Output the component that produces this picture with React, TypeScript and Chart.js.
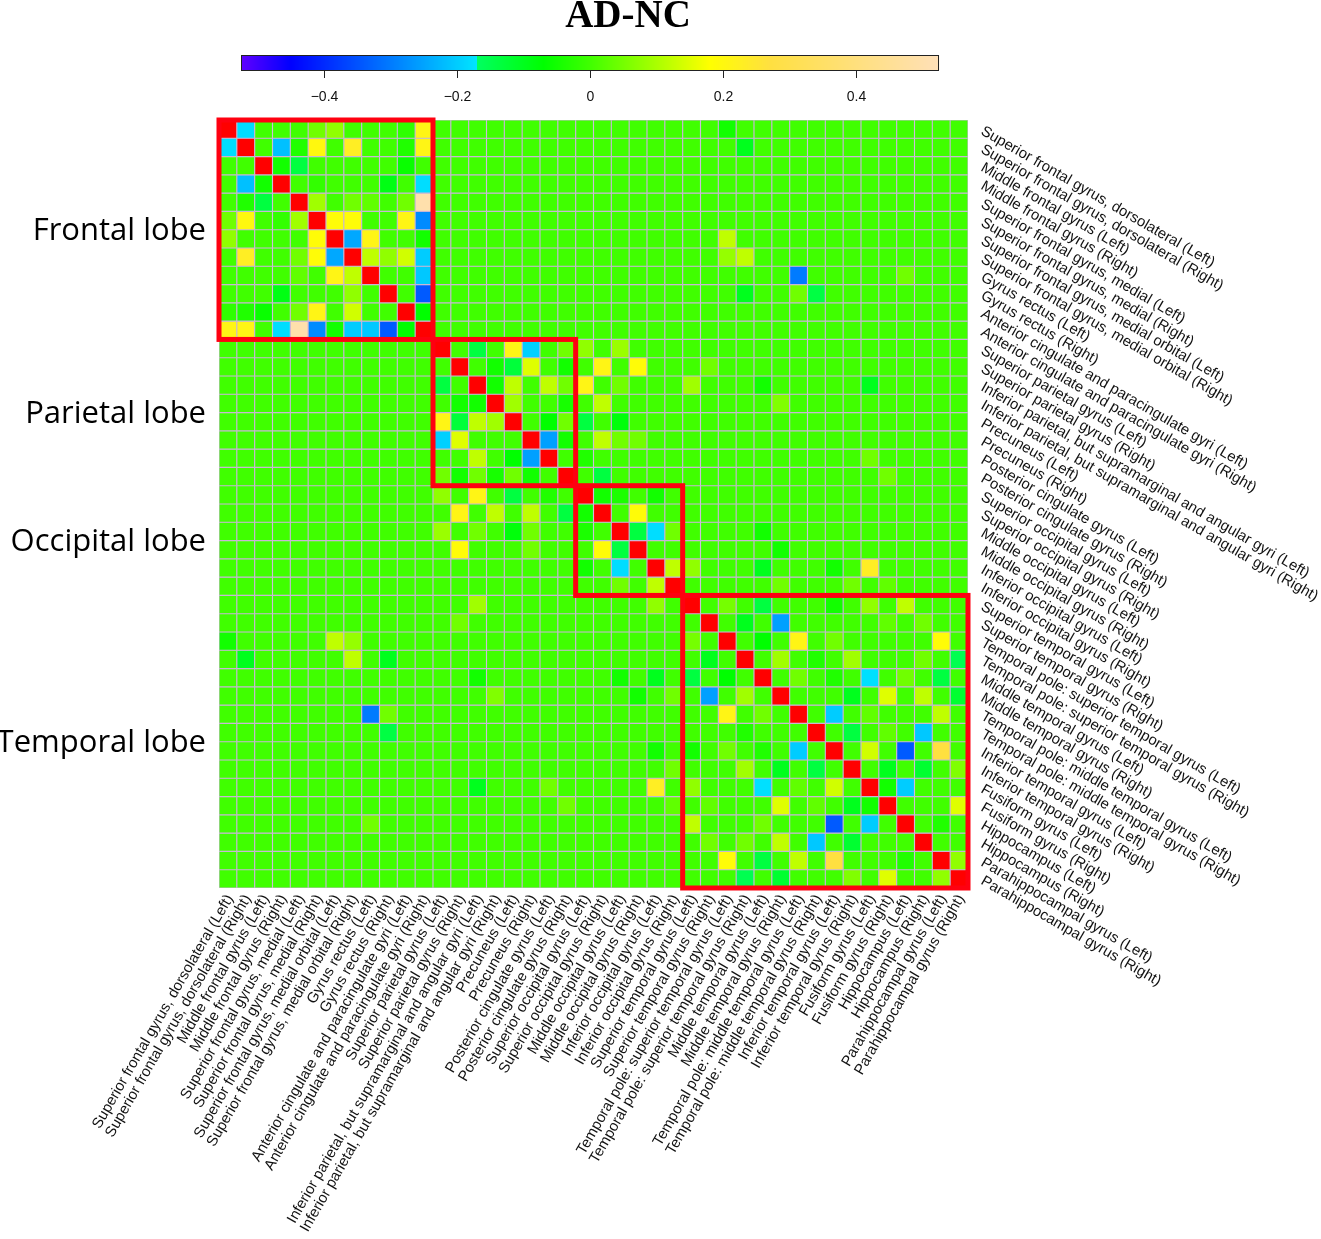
import React, { useEffect, useRef } from 'react';
import { Chart, registerables } from 'chart.js';

Chart.register(...registerables);

const regions = [
  'Superior frontal gyrus, dorsolateral (Left)',
  'Superior frontal gyrus, dorsolateral (Right)',
  'Middle frontal gyrus (Left)',
  'Middle frontal gyrus (Right)',
  'Superior frontal gyrus, medial (Left)',
  'Superior frontal gyrus, medial (Right)',
  'Superior frontal gyrus, medial orbital (Left)',
  'Superior frontal gyrus, medial orbital (Right)',
  'Gyrus rectus (Left)',
  'Gyrus rectus (Right)',
  'Anterior cingulate and paracingulate gyri (Left)',
  'Anterior cingulate and paracingulate gyri (Right)',
  'Superior parietal gyrus (Left)',
  'Superior parietal gyrus (Right)',
  'Inferior parietal, but supramarginal and angular gyri (Left)',
  'Inferior parietal, but supramarginal and angular gyri (Right)',
  'Precuneus (Left)',
  'Precuneus (Right)',
  'Posterior cingulate gyrus (Left)',
  'Posterior cingulate gyrus (Right)',
  'Superior occipital gyrus (Left)',
  'Superior occipital gyrus (Right)',
  'Middle occipital gyrus (Left)',
  'Middle occipital gyrus (Right)',
  'Inferior occipital gyrus (Left)',
  'Inferior occipital gyrus (Right)',
  'Superior temporal gyrus (Left)',
  'Superior temporal gyrus (Right)',
  'Temporal pole: superior temporal gyrus (Left)',
  'Temporal pole: superior temporal gyrus (Right)',
  'Middle temporal gyrus (Left)',
  'Middle temporal gyrus (Right)',
  'Temporal pole: middle temporal gyrus (Left)',
  'Temporal pole: middle temporal gyrus (Right)',
  'Inferior temporal gyrus (Left)',
  'Inferior temporal gyrus (Right)',
  'Fusiform gyrus (Left)',
  'Fusiform gyrus (Right)',
  'Hippocampus (Left)',
  'Hippocampus (Right)',
  'Parahippocampal gyrus (Left)',
  'Parahippocampal gyrus (Right)',
];

const lobeNames = ['Frontal lobe', 'Parietal lobe', 'Occipital lobe', 'Temporal lobe'];
const lobeFirst = [1, 13, 21, 27];
const lobeLast = [12, 20, 26, 42];

const colorbarTicks = [-0.4, -0.2, 0, 0.2, 0.4];
const colorbarMin = -0.525;
const colorbarMax = 0.525;
const diagonalValue = 1;

// upper-triangle differences [row, col, value] (1-based), mirrored to lower triangle
const differences: [number, number, number][] = [
  [1, 2, -0.18], [1, 6, 0.045], [1, 7, 0.075], [1, 11, -0.02], [1, 12, 0.21],
  [2, 4, -0.215], [2, 5, -0.035], [2, 6, 0.2], [2, 8, 0.23], [2, 11, -0.035], [2, 12, 0.21],
  [3, 4, -0.05], [3, 5, -0.137], [3, 11, -0.06],
  [4, 6, -0.015], [4, 10, -0.09], [4, 12, -0.18],
  [5, 6, 0.09], [5, 8, 0.045], [5, 9, 0.03], [5, 11, 0.045], [5, 12, 0.5],
  [6, 7, 0.19], [6, 8, 0.19], [6, 11, 0.21], [6, 12, -0.28],
  [7, 8, -0.245], [7, 9, 0.21], [7, 12, -0.05],
  [8, 9, 0.12], [8, 10, 0.075], [8, 11, 0.136], [8, 12, -0.2],
  [9, 12, -0.205], [10, 12, -0.34], [11, 12, -0.07],
  [1, 29, -0.05], [2, 30, -0.1], [7, 29, 0.12], [8, 29, 0.08], [8, 30, 0.12],
  [9, 33, -0.3], [9, 39, 0.045], [10, 30, -0.1], [10, 33, 0.045], [10, 34, -0.14],
  [13, 15, -0.137], [13, 17, 0.21], [13, 18, -0.196], [13, 20, 0.045], [13, 21, 0.075], [13, 23, 0.085],
  [14, 16, -0.05], [14, 17, -0.13], [14, 18, 0.15], [14, 20, -0.05], [14, 22, 0.21], [14, 24, 0.19], [14, 28, 0.045],
  [15, 16, -0.05], [15, 17, 0.12], [15, 19, 0.12], [15, 20, 0.045], [15, 21, 0.21], [15, 23, 0.045],
  [15, 27, 0.09], [15, 31, -0.05], [15, 37, -0.1],
  [16, 17, 0.09], [16, 20, -0.045], [16, 22, 0.12], [16, 32, 0.06],
  [17, 19, -0.07], [17, 20, 0.045], [17, 21, -0.137], [17, 23, -0.08],
  [18, 19, -0.254], [18, 20, -0.05], [18, 22, 0.12], [18, 23, 0.045], [18, 24, 0.045],
  [19, 21, -0.035], [19, 37, 0.045], [20, 22, -0.137], [20, 38, 0.045],
  [21, 22, -0.05], [21, 23, -0.04], [21, 25, -0.05],
  [22, 24, 0.19], [23, 24, -0.137], [23, 25, -0.18], [23, 26, 0.045], [23, 31, -0.05],
  [24, 32, -0.05], [25, 26, 0.12], [25, 27, 0.075], [25, 31, -0.1], [25, 35, -0.05], [25, 37, 0.23],
  [26, 32, 0.045], [26, 36, 0.045], [26, 38, 0.03],
  [27, 29, 0.05], [27, 31, -0.137], [27, 35, -0.05], [27, 37, 0.075], [27, 39, 0.12],
  [28, 30, -0.1], [28, 32, -0.254], [28, 38, 0.03], [28, 40, 0.045],
  [29, 31, -0.07], [29, 33, 0.21], [29, 35, 0.045], [29, 41, 0.19],
  [30, 32, 0.09], [30, 34, -0.035], [30, 36, 0.09], [30, 40, 0.045], [30, 42, -0.153],
  [31, 33, 0.045], [31, 35, -0.035], [31, 37, -0.176], [31, 39, 0.045], [31, 41, -0.137],
  [32, 36, -0.1], [32, 38, 0.15], [32, 40, 0.12], [32, 42, -0.12],
  [33, 35, -0.2], [33, 37, 0.03], [33, 41, 0.12],
  [34, 36, -0.137], [34, 38, 0.03], [34, 40, -0.205],
  [35, 37, 0.136], [35, 39, -0.34], [35, 41, 0.27],
  [36, 38, -0.1], [36, 40, -0.12], [36, 42, 0.06],
  [37, 38, -0.05], [37, 39, -0.2], [38, 42, 0.15], [39, 41, -0.035], [41, 42, 0.075],
];

const colorStops: [number, number[]][] = [
  [-0.525, [96, 0, 255]],
  [-0.45, [0, 0, 255]],
  [-0.17, [0, 229, 255]],
  [-0.1699, [0, 255, 96]],
  [-0.07, [0, 255, 0]],
  [0, [64, 255, 0]],
  [0.18, [255, 255, 0]],
  [0.27, [255, 224, 64]],
  [0.525, [255, 224, 184]],
];

function colorFor(v: number): string {
  if (v >= 0.9) return 'rgb(255,0,0)';
  if (v <= colorStops[0][0]) return `rgb(${colorStops[0][1].join(',')})`;
  for (let k = 1; k < colorStops.length; k++) {
    const [p1, c1] = colorStops[k];
    const [p0, c0] = colorStops[k - 1];
    if (v <= p1) {
      const t = (v - p0) / (p1 - p0);
      const c = c0.map((a, i) => Math.round(a + (c1[i] - a) * t));
      return `rgb(${c.join(',')})`;
    }
  }
  return `rgb(${colorStops[colorStops.length - 1][1].join(',')})`;
}

function buildMatrix(): number[][] {
  const n = regions.length;
  const m: number[][] = [];
  for (let i = 0; i < n; i++) {
    const row: number[] = [];
    for (let j = 0; j < n; j++) row.push(i === j ? diagonalValue : 0);
    m.push(row);
  }
  for (const [i, j, v] of differences) {
    m[i - 1][j - 1] = v;
    m[j - 1][i - 1] = v;
  }
  return m;
}

const LABEL_FONT = '14.9px "Liberation Sans", Arial, sans-serif';

const overlayPlugin = {
  id: 'overlay',
  afterDatasetsDraw(chart: any) {
    const { ctx, chartArea, scales } = chart;
    const xs = scales.x;
    const ys = scales.y;
    const n = regions.length;
    const colW = (chartArea.right - chartArea.left) / n;

    ctx.save();
    // lobe frames
    ctx.strokeStyle = '#ff0010';
    ctx.lineWidth = 5;
    lobeFirst.forEach((f, k) => {
      const l = lobeLast[k];
      const x0 = xs.getPixelForValue(f - 1) - colW / 2;
      const x1 = xs.getPixelForValue(l - 1) + colW / 2;
      const y0 = ys.getPixelForValue(f - 1);
      const y1 = ys.getPixelForValue(l);
      ctx.strokeRect(x0, y0, x1 - x0, y1 - y0);
    });

    // lobe names
    ctx.fillStyle = '#000';
    ctx.font = '31px "Open Sans", "Noto Sans", sans-serif';
    ctx.textAlign = 'right';
    ctx.textBaseline = 'alphabetic';
    lobeFirst.forEach((f, k) => {
      const yc = (ys.getPixelForValue(f - 1) + ys.getPixelForValue(lobeLast[k])) / 2;
      ctx.fillText(lobeNames[k], 206, yc + 10);
    });

    // right labels
    ctx.font = LABEL_FONT;
    ctx.fillStyle = '#111';
    ctx.textAlign = 'left';
    ctx.textBaseline = 'middle';
    regions.forEach((name, r) => {
      const yc = ys.getPixelForValue(r + 0.5);
      ctx.save();
      ctx.translate(chartArea.right + 14, yc + 1);
      ctx.rotate(Math.PI / 6);
      ctx.fillText(name, 0, 0);
      ctx.restore();
    });

    // bottom labels
    ctx.textAlign = 'right';
    regions.forEach((name, c) => {
      const xc = xs.getPixelForValue(c);
      ctx.save();
      ctx.translate(xc + 2, chartArea.bottom + 8);
      ctx.rotate(-Math.PI / 3);
      ctx.fillText(name, 0, 0);
      ctx.restore();
    });

    // title
    ctx.font = 'bold 39px "Liberation Serif", "DejaVu Serif", serif';
    ctx.textAlign = 'center';
    ctx.textBaseline = 'alphabetic';
    ctx.fillStyle = '#000';
    ctx.fillText('AD-NC', 628, 27);

    // colorbar
    const cbL = 241, cbR = 939, cbT = 55, cbB = 70;
    const toX = (v: number) => cbL + ((v - colorbarMin) / (colorbarMax - colorbarMin)) * (cbR - cbL);
    for (let px = cbL; px < cbR; px++) {
      const v = colorbarMin + ((px + 0.5 - cbL) / (cbR - cbL)) * (colorbarMax - colorbarMin);
      ctx.fillStyle = colorFor(v);
      ctx.fillRect(px, cbT, 1.2, cbB - cbT);
    }
    ctx.strokeStyle = '#222';
    ctx.lineWidth = 1;
    ctx.strokeRect(cbL + 0.5, cbT + 0.5, cbR - cbL - 1, cbB - cbT);
    ctx.font = '14px "Liberation Sans", Arial, sans-serif';
    ctx.fillStyle = '#111';
    ctx.textBaseline = 'middle';
    colorbarTicks.forEach((t) => {
      const x = Math.round(toX(t)) + 0.5;
      ctx.beginPath();
      ctx.moveTo(x, cbB);
      ctx.lineTo(x, cbB + 8);
      ctx.stroke();
      const label = t === 0 ? '0' : (t < 0 ? '\u2212' : '') + Math.abs(t).toFixed(1);
      ctx.fillText(label, x, 97);
    });
    ctx.restore();
  },
};

export default function App() {
  const canvasRef = useRef<HTMLCanvasElement | null>(null);

  useEffect(() => {
    const canvas = canvasRef.current;
    if (!canvas) return;
    const matrix = buildMatrix();
    const datasets = matrix.map((row, r) => ({
      label: regions[r],
      data: row.map(() => 1),
      backgroundColor: row.map((v) => colorFor(v)),
      borderColor: '#c8b6d4',
      borderWidth: 0.9,
      borderSkipped: false as const,
      barPercentage: 1,
      categoryPercentage: 1,
      stack: 'grid',
    }));
    const chart = new Chart(canvas, {
      type: 'bar',
      data: { labels: regions, datasets },
      options: {
        animation: false,
        responsive: false,
        events: [],
        layout: { padding: { left: 219, right: 353, top: 120, bottom: 351 } },
        plugins: { legend: { display: false }, title: { display: false }, tooltip: { enabled: false } },
        scales: {
          x: { type: 'category', stacked: true, display: false, offset: true },
          y: { type: 'linear', stacked: true, min: 0, max: regions.length, reverse: true, display: false },
        },
      },
      plugins: [overlayPlugin],
    });
    return () => chart.destroy();
  }, []);

  return (
    <div style={{ position: 'fixed', left: 0, top: 0, width: 1321, height: 1239, background: '#fff' }}>
      <canvas ref={canvasRef} width={1321} height={1239} style={{ width: 1321, height: 1239, display: 'block' }} />
    </div>
  );
}
